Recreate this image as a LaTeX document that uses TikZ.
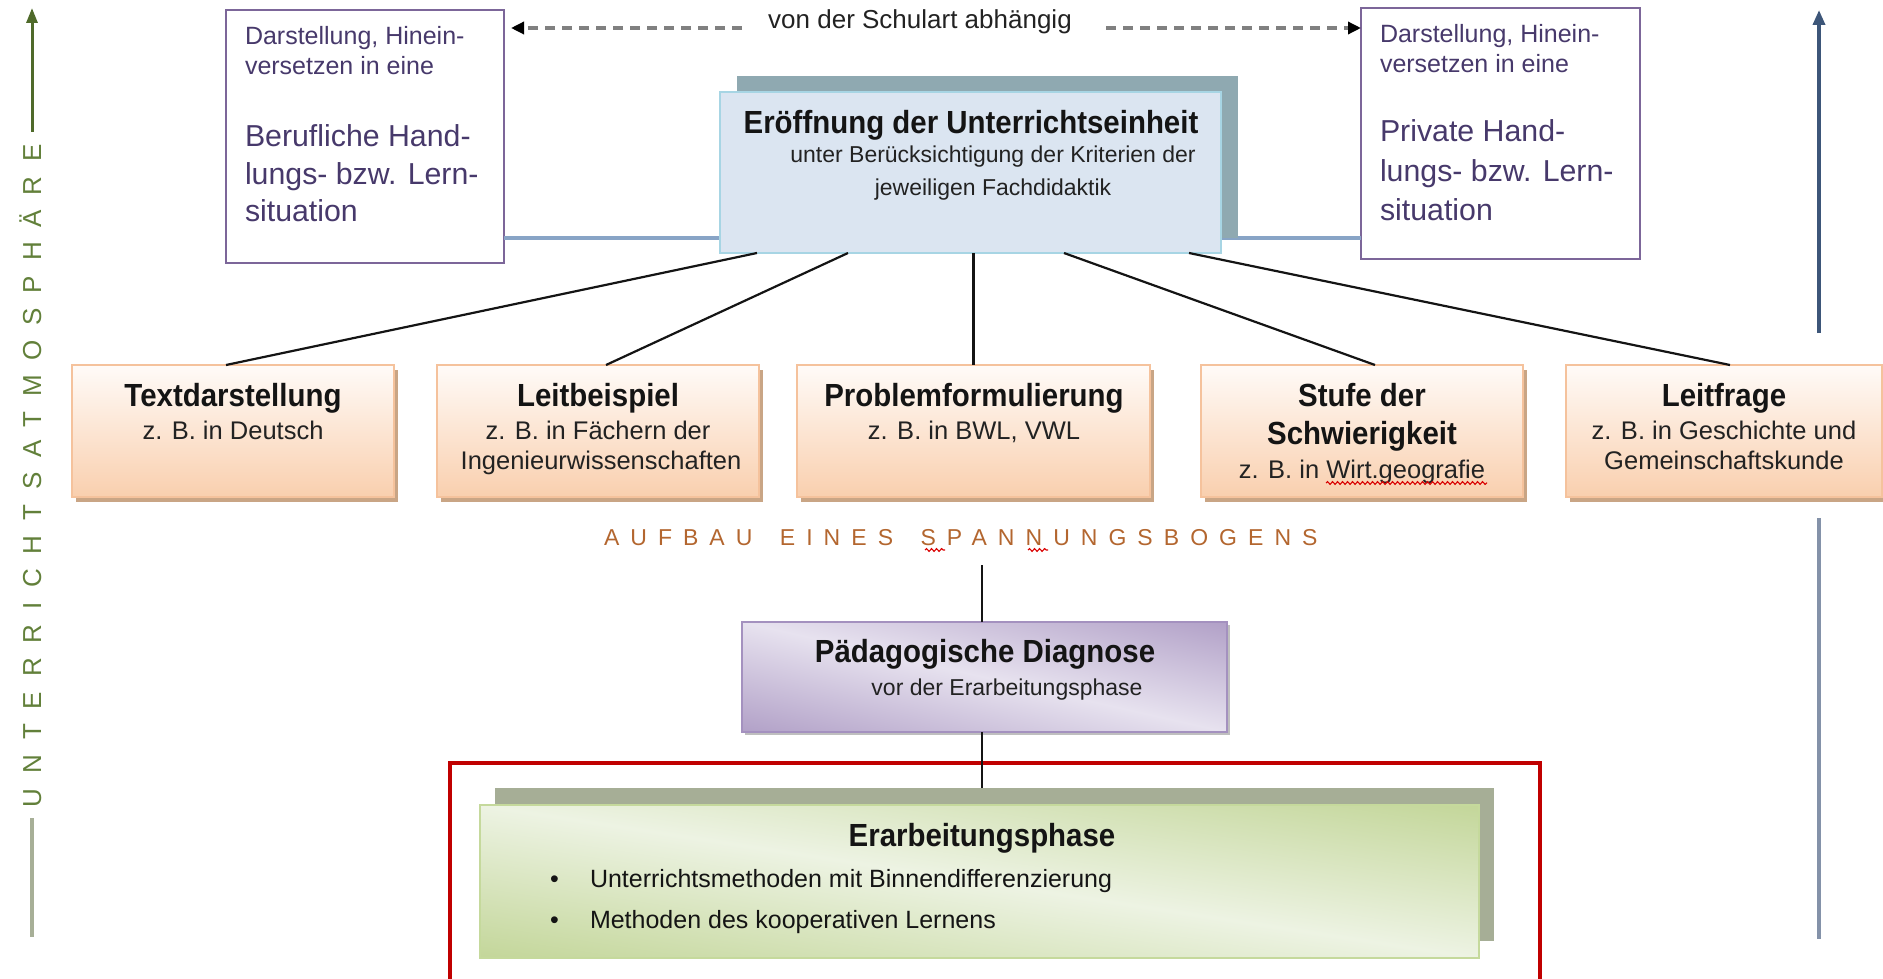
\documentclass[tikz,border=0pt]{standalone}
\usepackage{fontspec}
\setmainfont{Liberation Sans}
\newfontfamily\headfont[FakeStretch=0.92]{Liberation Sans}
\newfontfamily\spacedfont[LetterSpace=48]{Liberation Sans}
\newfontfamily\vspacedfont[LetterSpace=57]{Liberation Sans}
\usetikzlibrary{arrows.meta,shadows,decorations.pathmorphing}

\definecolor{ink}{HTML}{141414}
\definecolor{ink2}{HTML}{222222}
\definecolor{oborder}{HTML}{F5C29C}
\definecolor{otop}{HTML}{FFFBF8}
\definecolor{obot}{HTML}{F9CFAE}
\definecolor{oshadow}{HTML}{C9A585}
\definecolor{purpletxt}{HTML}{47396B}
\definecolor{boxpurple}{HTML}{7C6699}
\definecolor{efill}{HTML}{DBE5F1}
\definecolor{eborder}{HTML}{A7D5E4}
\definecolor{eshadow}{HTML}{8FA9B1}
\definecolor{bluelink}{HTML}{88A4C6}
\definecolor{dashgray}{HTML}{808080}
\definecolor{spancol}{HTML}{B3662F}
\definecolor{vgreen}{HTML}{62803A}
\definecolor{arrgreen}{HTML}{4F6A2A}
\definecolor{arrgreenlight}{HTML}{A7AF97}
\definecolor{arrblue}{HTML}{3D5679}
\definecolor{arrbluelight}{HTML}{8492A9}
\definecolor{dborder}{HTML}{A491BF}
\definecolor{dlight}{HTML}{E7E2EF}
\definecolor{ddark}{HTML}{B1A0C7}
\definecolor{glight}{HTML}{EDF3E3}
\definecolor{gdark}{HTML}{C3D699}
\definecolor{gborder}{HTML}{C5D99C}
\definecolor{gshadow}{HTML}{A6AE96}
\definecolor{redframe}{HTML}{C00000}

\begin{document}
\begin{tikzpicture}[x=1pt,y=-1pt,
  every node/.style={inner sep=0pt, outer sep=0pt},
  headtxt/.style={font=\headfont\bfseries\fontsize{32}{38}\selectfont, text=ink, anchor=base},
  subtxt/.style={font=\fontsize{25.5}{30}\selectfont, text=ink2, anchor=base},
  notetxt/.style={font=\fontsize{23}{28}\selectfont, text=ink2, anchor=base},
  sitsmall/.style={font=\fontsize{25}{30}\selectfont, text=purpletxt, anchor=base west},
  sitbig/.style={font=\fontsize{30.3}{36}\selectfont, text=purpletxt, anchor=base west},
  listtxt/.style={font=\fontsize{25}{30}\selectfont, text=ink, anchor=base west},
  orangebox/.style={draw=oborder, line width=1.5pt, top color=otop, bottom color=obot,
    minimum height=132pt, anchor=north west,
    drop shadow={shadow xshift=4pt, shadow yshift=-5pt, fill=oshadow, opacity=1}},
  situationbox/.style={draw=boxpurple, line width=2.5pt, fill=white, anchor=north west},
  branch/.style={draw=ink, line width=2.2pt},
  dasharrow/.style={draw=dashgray, line width=3.5pt, dash pattern=on 10pt off 7pt,
    -{Triangle[length=13pt,width=12pt,fill=black,color=black]}},
  squiggle/.style={draw=red!85!black, line width=1.1pt,
    decorate, decoration={snake, amplitude=1.4pt, segment length=5pt}}
]
\useasboundingbox (0,0) rectangle (1883,979);

% ---- side arrows: Unterrichtsatmosphaere ----
\coordinate (lgTop) at (32,8);
\coordinate (lgA) at (32,132);
\coordinate (lgB) at (32,818);
\coordinate (lgBot) at (32,937);
\draw[arrgreen, line width=3pt, -{Triangle[length=15pt,width=11pt]}] (lgA) -- (lgTop);
\draw[arrgreenlight, line width=4pt] (lgB) -- (lgBot);
\node[font=\vspacedfont\fontsize{26}{30}\selectfont, text=vgreen, rotate=90, anchor=base west]
  (atmo) at (41,807) {UNTERRICHTSATMOSPH\"ARE};

\coordinate (rbTop) at (1819,10);
\coordinate (rbA) at (1819,333);
\coordinate (rbB) at (1819,518);
\coordinate (rbBot) at (1819,939);
\draw[arrblue, line width=3.5pt, -{Triangle[length=15pt,width=12pt]}] (rbA) -- (rbTop);
\draw[arrbluelight, line width=4pt] (rbB) -- (rbBot);

% ---- situation boxes ----
\node[situationbox, minimum width=278pt, minimum height=253pt] (lbox) at (226,10) {};
\node[situationbox, minimum width=279pt, minimum height=251pt] (rbox) at (1361,8) {};

\node[sitsmall] (l1) at (245,45) {Darstellung, Hinein-};
\node[sitsmall] (l2) at (245,75) {versetzen in eine};
\node[sitbig] (l3) at (245,147) {Berufliche Hand-};
\node[sitbig] (l4) at (245,185) {lungs- bzw. Lern-};
\node[sitbig] (l5) at (245,222) {situation};

\node[sitsmall] (r1) at (1380,43) {Darstellung, Hinein-};
\node[sitsmall] (r2) at (1380,73) {versetzen in eine};
\node[sitbig] (r3) at (1380,142) {Private Hand-};
\node[sitbig] (r4) at (1380,182) {lungs- bzw. Lern-};
\node[sitbig] (r5) at (1380,220) {situation};

% dashed link between the two situations
\node[font=\fontsize{26}{30}\selectfont, text=ink2, anchor=base] (schulart) at (920,29) {von der Schulart abh\"angig};
\coordinate (dashL) at (742,28);
\coordinate (dashR) at (1106,28);
\draw[dasharrow, shorten >=7pt] (dashL) -- (lbox.east |- dashL);
\draw[dasharrow] (dashR) -- (rbox.west |- dashR);

% ---- opening of the lesson ----
\coordinate (linkY) at (0,238);
\draw[bluelink, line width=4pt] (lbox.east |- linkY) -- (rbox.west |- linkY);

\node[draw=eborder, line width=2pt, fill=efill, anchor=north west,
  minimum width=501pt, minimum height=161pt,
  drop shadow={shadow xshift=16.5pt, shadow yshift=15.5pt, fill=eshadow, opacity=1}]
  (eroeff) at (720,92) {};
\node[headtxt] (eTitle) at (971,134) {Er\"offnung der Unterrichtseinheit};
\node[notetxt] (eSub1) at (993,163) {unter Ber\"ucksichtigung der Kriterien der};
\node[notetxt] (eSub2) at (993,195) {jeweiligen Fachdidaktik};

% ---- ways of building up tension ----
\node[orangebox, minimum width=322pt] (b1) at (72,365) {};
\node[orangebox, minimum width=322pt] (b2) at (437,365) {};
\node[orangebox, minimum width=353pt] (b3) at (797,365) {};
\node[orangebox, minimum width=322pt] (b4) at (1201,365) {};
\node[orangebox, minimum width=316pt] (b5) at (1566,365) {};

\draw[branch] ([xshift=37pt]eroeff.south west) -- ([xshift=-7pt]b1.north);
\draw[branch] ([xshift=128pt]eroeff.south west) -- ([xshift=8pt]b2.north);
\draw[branch] (b3.north |- eroeff.south) -- (b3.north);
\draw[branch] ([xshift=344pt]eroeff.south west) -- ([xshift=13pt]b4.north);
\draw[branch] ([xshift=469pt]eroeff.south west) -- ([xshift=6pt]b5.north);

\node[headtxt] (b1t) at (233,406) {Textdarstellung};
\node[subtxt] (b1s) at (233,439) {z. B. in Deutsch};

\node[headtxt] (b2t) at (598,406) {Leitbeispiel};
\node[subtxt] (b2s) at (598,439) {z. B. in F\"achern der};
\node[subtxt] (b2u) at (601,469) {Ingenieurwissenschaften};

\node[headtxt] (b3t) at (974,406) {Problemformulierung};
\node[subtxt] (b3s) at (974,439) {z. B. in BWL, VWL};

\node[headtxt] (b4t) at (1362,406) {Stufe der};
\node[headtxt] (b4u) at (1362,444) {Schwierigkeit};
\node[subtxt] (b4s) at (1362,478) {z. B. in Wirt.geografie};

\node[headtxt] (b5t) at (1724,406) {Leitfrage};
\node[subtxt] (b5s) at (1724,439) {z. B. in Geschichte und};
\node[subtxt] (b5u) at (1724,469) {Gemeinschaftskunde};

\node[font=\spacedfont\fontsize{23}{28}\selectfont, text=spancol, anchor=base west]
  (span) at (604,545) {AUFBAU\hspace{10pt} EINES\hspace{10pt} SPANNUNGSBOGENS};

% spelling marks
\coordinate (sqA1) at (925,550);
\coordinate (sqA2) at (945,550);
\coordinate (sqB1) at (1028,550);
\coordinate (sqB2) at (1048,550);
\coordinate (sqC1) at (1326,483);
\coordinate (sqC2) at (1487,483);
\draw[squiggle] (sqA1) -- (sqA2);
\draw[squiggle] (sqB1) -- (sqB2);
\draw[squiggle] (sqC1) -- (sqC2);

% ---- diagnosis ----
\node[fill=dlight, anchor=north west,
  minimum width=485pt, minimum height=110pt,
  drop shadow={shadow xshift=3pt, shadow yshift=-3pt, fill=black!25, opacity=1}]
  (diag) at (742,622) {};
% diagonal fill: dark toward the lower left and upper right corners
\begin{scope}
  \clip (diag.south west) rectangle (diag.north east);
  \begin{scope}[transform canvas={shift={(diag.center)}, rotate=-12.8}]
    \shade[top color=ddark, bottom color=ddark, middle color=dlight] (-320,-108) rectangle (320,108);
  \end{scope}
\end{scope}
\draw[dborder, line width=2pt] (diag.south west) rectangle (diag.north east);
\node[headtxt] (dTitle) at (985,662) {P\"adagogische Diagnose};
\node[notetxt] (dSub) at (1007,695) {vor der Erarbeitungsphase};

\coordinate (spanFoot) at (982,565);
\draw[ink, line width=2pt] (spanFoot) -- (spanFoot |- diag.north);

% ---- working phase ----
\draw[redframe, line width=4pt] (450,995) -- (450,763) -- (1540,763) -- (1540,995);

\node[fill=glight, anchor=north west,
  minimum width=999pt, minimum height=153pt,
  drop shadow={shadow xshift=15pt, shadow yshift=17pt, fill=gshadow, opacity=1}]
  (erarb) at (480,805) {};
\begin{scope}
  \clip (erarb.south west) rectangle (erarb.north east);
  \begin{scope}[transform canvas={shift={(erarb.center)}, rotate=-8.7}]
    \shade[top color=gdark, bottom color=gdark, middle color=glight] (-560,-152) rectangle (560,152);
  \end{scope}
\end{scope}
\draw[gborder, line width=1.5pt] (erarb.south west) rectangle (erarb.north east);
\draw[ink, line width=2pt] (spanFoot |- diag.south) -- ([yshift=17pt]spanFoot |- erarb.north);

\node[headtxt] (gTitle) at (982,846) {Erarbeitungsphase};
\node[listtxt] (g1b) at (550,887) {\textbullet};
\node[listtxt] (g1) at (590,887) {Unterrichtsmethoden mit Binnendifferenzierung};
\node[listtxt] (g2b) at (550,928) {\textbullet};
\node[listtxt] (g2) at (590,928) {Methoden des kooperativen Lernens};
\end{tikzpicture}
\end{document}
